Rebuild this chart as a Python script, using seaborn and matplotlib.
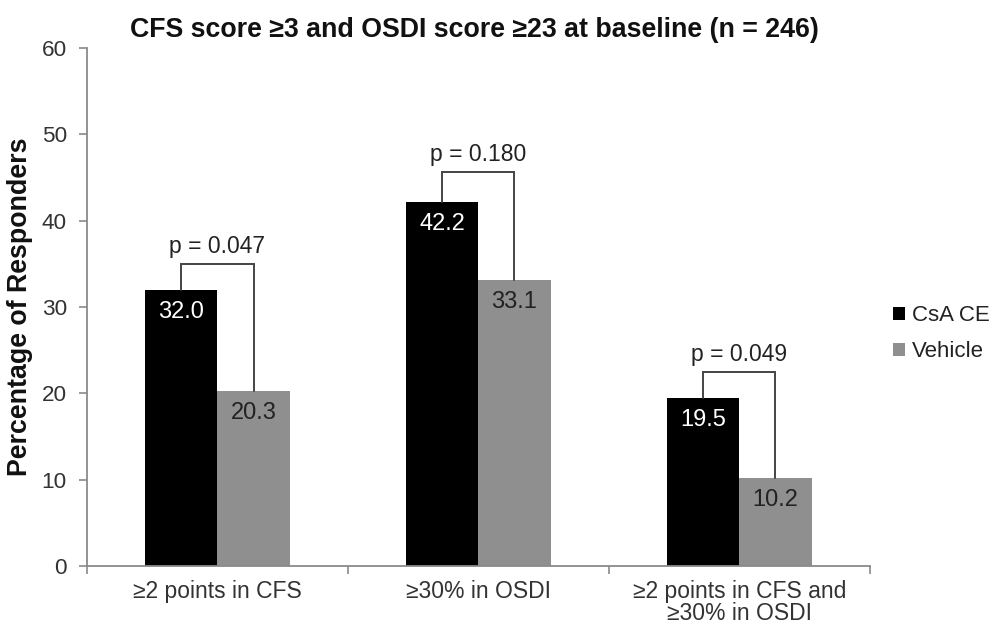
import matplotlib
matplotlib.use("Agg")
import matplotlib.pyplot as plt
from matplotlib.ticker import FixedLocator
from matplotlib.patches import Patch
import seaborn as sns
import pandas as pd

categories = ["\u22652 points in CFS", "\u226530% in OSDI", "\u22652 points in CFS and\n\u226530% in OSDI"]
groups = ["CsA CE", "Vehicle"]
csa_values = [32.0, 42.2, 19.5]
vehicle_values = [20.3, 33.1, 10.2]
p_values = ["p = 0.047", "p = 0.180", "p = 0.049"]
bracket_heights = [35.0, 45.6, 22.5]

df = pd.DataFrame({
    "category": categories * 2,
    "group": [groups[0]] * 3 + [groups[1]] * 3,
    "value": csa_values + vehicle_values,
})

sns.set_theme(style="white")
plt.rcParams["font.family"] = ["Liberation Sans", "DejaVu Sans"]

fig = plt.figure(figsize=(9.93, 6.26), dpi=100)
ax = fig.add_axes([0.0876, 0.0958, 0.7885, 0.8275])

palette = {"CsA CE": "#000000", "Vehicle": "#8f8f8f"}
sns.barplot(data=df, x="category", y="value", hue="group", hue_order=groups,
            order=categories, palette=palette, width=0.552, gap=0,
            saturation=1, edgecolor="none", ax=ax, legend=False)

ax.set_ylim(0, 60)
ax.set_xlim(-0.5, 2.5)
ax.set_yticks(range(0, 61, 10))
ax.set_xlabel("")
ax.set_ylabel("Percentage of Responders", fontsize=19.3, fontweight="bold",
              color="#111111")
ax.yaxis.set_label_coords(-0.069, 0.5)

for s in ["top", "right"]:
    ax.spines[s].set_visible(False)
for s in ["left", "bottom"]:
    ax.spines[s].set_color("#8a8a8a")
    ax.spines[s].set_linewidth(1.3)

ax.tick_params(axis="y", which="major", direction="out", length=5.8, width=1.2,
               color="#8a8a8a", labelsize=16.2, labelcolor="#333333", pad=8.6, left=True)
ax.tick_params(axis="x", which="major", length=0, labelsize=16.5,
               labelcolor="#333333", pad=10, bottom=True)
for lbl in ax.get_xticklabels():
    lbl.set_linespacing(0.95)
ax.xaxis.set_minor_locator(FixedLocator([-0.5, 0.5, 1.5, 2.5]))
ax.tick_params(axis="x", which="minor", direction="out", length=5.8, width=1.2,
               color="#8a8a8a", bottom=True)

bar_w = 0.552 / 2
for i in range(3):
    xl = i - bar_w / 2
    xr = i + bar_w / 2
    # value labels inside the bars
    ax.annotate(f"{csa_values[i]:.1f}", (xl, csa_values[i]), xytext=(0, -16),
                textcoords="offset points", ha="center", va="center",
                color="white", fontsize=17)
    ax.annotate(f"{vehicle_values[i]:.1f}", (xr, vehicle_values[i]), xytext=(0, -16),
                textcoords="offset points", ha="center", va="center",
                color="#222222", fontsize=17)
    # significance bracket
    h = bracket_heights[i]
    ax.plot([xl, xl, xr, xr], [csa_values[i], h, h, vehicle_values[i]],
            color="#444444", lw=1.4, solid_joinstyle="miter")
    ax.annotate(p_values[i], ((xl + xr) / 2, h), xytext=(0, 8),
                textcoords="offset points", ha="center", va="baseline",
                color="#222222", fontsize=16.5)

fig.text(0.478, 0.952, "CFS score \u22653 and OSDI score \u226523 at baseline (n = 246)",
         ha="center", va="center", fontsize=19.3, fontweight="bold", color="#111111")

handles = [Patch(facecolor=palette[g], edgecolor="none") for g in groups]
fig.legend(handles, groups, loc="center left", bbox_to_anchor=(0.899, 0.467),
           frameon=False, fontsize=16, handlelength=0.55, handleheight=0.55,
           handletextpad=0.32, labelspacing=0.68, borderpad=0, borderaxespad=0,
           labelcolor="#222222")

fig.savefig("out.png", dpi=100)
